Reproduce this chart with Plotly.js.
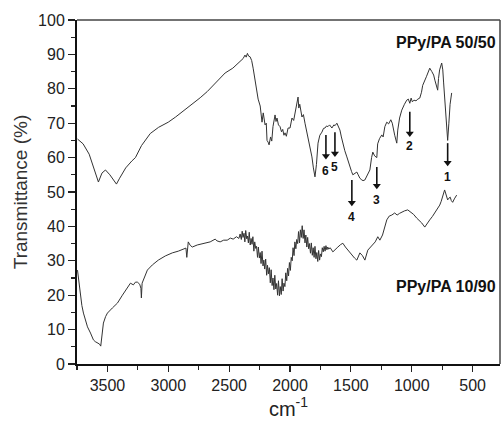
<!DOCTYPE html>
<html>
<head>
<meta charset="utf-8">
<script src="https://cdn.plot.ly/plotly-3.0.1.min.js"></script>
<style>html,body{margin:0;padding:0;background:#fff;}#chart{width:503px;height:424px;}</style>
</head>
<body>
<div id="chart"></div>
<script>
// PPy/PA 50/50 spectrum
const wn5050 = [3746,3700,3650,3610,3574,3545,3516,3480,3426,3400,3350,3300,3270,3220,3148,3080,3000,2940,2885,2810,2738,2680,2631,2580,2533,2470,2410,2385,2370,2360,2350,2340,2328,2315,2303,2290,2275,2262,2245,2230,2220,2205,2195,2189,2180,2172,2160,2150,2140,2123,2115,2107,2095,2082,2070,2060,2050,2041,2030,2016,2000,1990,1984,1970,1959,1945,1934,1928,1920,1902,1890,1877,1865,1852,1835,1820,1808,1795,1783,1770,1755,1738,1725,1713,1700,1689,1675,1656,1640,1630,1615,1600,1590,1578,1566,1550,1533,1520,1508,1495,1484,1465,1451,1440,1426,1410,1400,1385,1370,1357,1344,1330,1320,1305,1287,1280,1265,1246,1235,1221,1205,1190,1172,1160,1156,1140,1123,1115,1100,1082,1060,1041,1028,1016,1005,995,982,965,950,934,920,910,880,852,835,820,810,795,787,780,771,754,745,738,730,721,713,705,695,685,672];
const tr5050 = [65.4,64,61,57,52.9,55.5,56.4,55,52.3,54,57,59,60,63.5,67,68.8,70.3,71.8,73.3,75.3,77.4,79.2,81,83,84.6,86,88,88.8,89.8,89.2,90.3,89.5,89.3,88.2,86,83,79.5,77,75,70.3,73,69.5,70,65,64.5,63.7,66,64.8,69,72.4,70.5,71.5,69.5,69,67.5,68.2,66.5,67.2,66.2,68.6,68.6,70.5,71.5,70.8,73,74.8,77.6,74.4,75.5,71.8,72.5,70,68,66,63,60.2,57,54.4,58,64.2,66.5,67.4,68.5,68.6,69.2,69,69.5,68.6,69.5,69.3,70,69,68,66,64.2,62,60.2,58.5,57.3,56,55,55.6,55.8,55,54,53.5,53.3,53.5,54.5,55.3,56.4,60,61.6,60.5,60,64,65.5,66.6,66,69,70.3,69.8,71,70,69,66.5,64.2,68,71.5,73.8,75.5,76.7,77,75.8,77.3,76.2,76.7,76.5,77,77.3,79,81,83.5,86,85,84,82.5,80.5,79.6,83,85.5,87.5,85.5,81.7,78,73.8,69,65,70,75.5,78.8];

// PPy/PA 10/90 spectrum
const wn1090 = [3746,3735,3721,3710,3697,3680,3664,3639,3615,3600,3582,3565,3555,3545,3533,3515,3500,3459,3418,3377,3336,3311,3287,3270,3254,3235,3225,3221,3215,3205,3190,3172,3131,3082,3025,2967,2918,2880,2855,2848,2842,2836,2820,2803,2762,2713,2656,2615,2600,2574,2545,2516,2490,2467,2440,2420,2410,
  2400,2393,2386,2378,2371,2364,2356,2349,2342,2335,2327,2320,2312,2305,2297,2290,2282,2275,2267,2260,2252,2245,2238,2230,2222,2215,2208,2200,2192,2185,2178,2170,2162,2155,2147,2140,2132,2125,2117,2110,2102,2095,2087,2080,2072,2065,2057,2050,2042,2035,2027,2020,2012,2005,1997,1990,1982,1975,1967,1960,1952,1945,1937,1930,1922,1915,1907,1900,1892,1885,1877,1870,1862,1855,1847,1840,1832,1825,1817,1810,1802,1795,1787,1780,1772,1765,1757,1750,1742,1735,1727,1720,1712,1705,1697,1690,1682,
  1670,1648,1630,1607,1585,1566,1545,1525,1492,1470,1451,1426,1405,1385,1361,1340,1320,1300,1279,1262,1240,1221,1205,1185,1164,1140,1120,1100,1082,1060,1033,1010,985,959,935,918,893,870,852,830,811,790,770,758,746,738,730,722,712,705,695,684,675,664,650,631];
const tr1090 = [27.3,23.5,19.5,17,14.8,12.5,10.8,9,7,6.5,6.1,5.8,5.2,8,11.9,13.8,14.8,16.3,17.7,20,22.4,23.5,23,23.8,23.8,23.2,22,19.2,23.5,24.4,26,27.3,28.8,30.2,31.4,32.3,32.8,33.3,33.7,31,34.8,35.5,34.5,34,34.6,35.1,35.5,36.3,35.8,35.5,36,36,36.6,36.3,37,36.5,37.8,
  36.2,38.6,36.8,38,35.5,38.8,36.4,37.2,35.2,38.3,34.6,36.5,34.8,37,32.8,35.5,33.6,34.2,31,34,30.8,32.4,29.2,32.8,28.5,30.2,27.6,30.5,25.8,28.7,26.2,28,23.6,27.4,22.8,25,21.6,25.8,21.8,23.4,20,24.2,19.8,22.5,20.2,24.8,21.2,23.5,22.5,26.5,24.2,27.8,25.6,29.5,27.2,31,30,33.8,31.5,35.5,33.5,36.2,35,38.5,35.2,39,36.8,40.2,36.5,39,35.2,37.5,34,36.8,33.5,35,32.2,35.2,31.6,33.8,31,34.2,30.6,32.4,29.8,33,30.2,32,31.2,33.8,32.6,34.2,32.8,34.4,33.2,34,33.4,
  33.8,32.6,33.3,34,34.7,35.1,34,33.1,31.7,30.8,30.2,32.3,31.5,30.2,33.1,34,34.6,35.5,37,36,37.5,39.8,41.9,43,43.3,43.9,43.3,43.8,44.2,44.5,44.8,44.2,43.5,42.4,41.6,41,39.8,40.8,41.9,42.9,43.9,45,46.2,47.3,48.5,49.5,50.6,49.7,48.3,47.7,48.2,48.5,47.5,47,48,49.1];

// Band markers
const bandLabels = ['1','2','3','4','5','6'];
const bandWn = [705, 1016, 1287, 1492, 1631, 1705];
const bandTail = [64.2, 73.3, 57.3, 53.5, 67.4, 66.6];
const bandHead = [58.5, 67.0, 51.8, 46.9, 61.2, 60.5];
const bandLabelY = [54.3, 63.3, 47.6, 42.8, 57.3, 56.0];

// Sample labels
const sampleNames = ['PPy/PA 50/50', 'PPy/PA 10/90'];
const sampleLabelY = [93.6, 22.5];

// Ticks
const xTicks = [3500, 3000, 2500, 2000, 1500, 1000, 500];
const yTicks = [0, 10, 20, 30, 40, 50, 60, 70, 80, 90, 100];

const fontFam = 'Arial, "Liberation Sans", sans-serif';
const lineColor = '#333333';
const shaftX = [], shaftY = [];
for (let i = 0; i < bandWn.length; i++) {
  shaftX.push(bandWn[i], bandWn[i], null);
  shaftY.push(bandTail[i], bandHead[i], null);
}
const traces = [
  {x: wn5050, y: tr5050, type: 'scatter', mode: 'lines', line: {color: lineColor, width: 1}, name: sampleNames[0]},
  {x: wn1090, y: tr1090, type: 'scatter', mode: 'lines', line: {color: lineColor, width: 1}, name: sampleNames[1]},
  {x: shaftX, y: shaftY, type: 'scatter', mode: 'lines', line: {color: '#111', width: 1.6}, hoverinfo: 'skip'},
  {x: bandWn, y: bandHead, type: 'scatter', mode: 'markers', marker: {symbol: 'triangle-down', size: 7, color: '#111'}, hoverinfo: 'skip'}
];

const annotations = [];
for (let i = 0; i < bandLabels.length; i++) {
  annotations.push({
    x: bandWn[i], y: bandLabelY[i], xref: 'x', yref: 'y',
    text: '<b>' + bandLabels[i] + '</b>', showarrow: false,
    font: {family: fontFam, size: 12, color: '#111'}
  });
}
for (let i = 0; i < sampleNames.length; i++) {
  annotations.push({
    x: 0.995, y: sampleLabelY[i], xref: 'paper', yref: 'y', xanchor: 'right',
    text: '<b>' + sampleNames[i] + '</b>', showarrow: false,
    font: {family: fontFam, size: 16, color: '#111'}
  });
}

const layout = {
  width: 503, height: 424,
  margin: {l: 77, r: 3, t: 20, b: 60},
  paper_bgcolor: '#fff', plot_bgcolor: '#fff',
  showlegend: false,
  font: {family: fontFam, color: '#222'},
  xaxis: {
    range: [3750, 275], tickvals: xTicks, ticks: 'outside', ticklen: 6, tickwidth: 1.2, tickcolor: '#222',
    showline: true, linecolor: '#111', linewidth: 2, showgrid: false, zeroline: false,
    tickfont: {family: fontFam, size: 16, color: '#222'},
    minor: {dtick: 250, tick0: 0, ticks: 'outside', ticklen: 4, tickcolor: '#222', showgrid: false},
    title: {text: 'cm<sup>-1</sup>', font: {family: fontFam, size: 20, color: '#222'}, standoff: 6}
  },
  yaxis: {
    range: [0, 100], tickvals: yTicks, ticks: 'outside', ticklen: 7, tickwidth: 1.2, tickcolor: '#222',
    showline: true, linecolor: '#111', linewidth: 2, showgrid: false, zeroline: false,
    tickfont: {family: fontFam, size: 16, color: '#222'},
    minor: {dtick: 5, tick0: 0, ticks: 'outside', ticklen: 4, tickcolor: '#222', showgrid: false},
    title: {text: 'Transmittance (%)', font: {family: fontFam, size: 19, color: '#333'}, standoff: 5}
  },
  shapes: [
    {type: 'line', xref: 'paper', yref: 'paper', x0: 0, x1: 1, y0: 1, y1: 1, line: {color: '#444', width: 1.5}},
    {type: 'line', xref: 'paper', yref: 'paper', x0: 1, x1: 1, y0: 0, y1: 1, line: {color: '#444', width: 1.5}}
  ],
  annotations: annotations
};

Plotly.newPlot('chart', traces, layout, {staticPlot: true, displayModeBar: false});
</script>
</body>
</html>
